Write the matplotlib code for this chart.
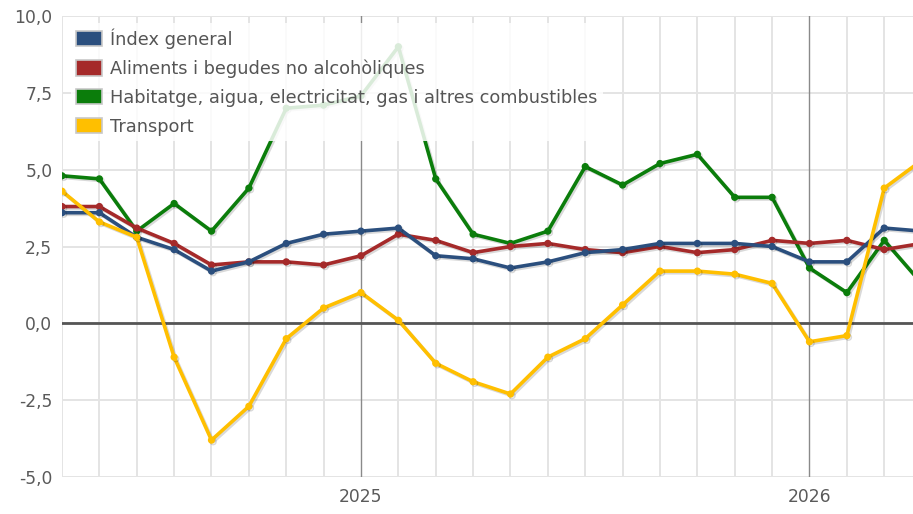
import matplotlib
matplotlib.use("Agg")
from matplotlib import pyplot as plt
from matplotlib.patches import Patch
import matplotlib.patheffects as pe

# monthly values, May 2024 .. Apr 2026
months = list(range(24))
index_general = [3.6, 3.6, 2.8, 2.4, 1.7, 2.0, 2.6, 2.9, 3.0, 3.1, 2.2, 2.1,
                 1.8, 2.0, 2.3, 2.4, 2.6, 2.6, 2.6, 2.5, 2.0, 2.0, 3.1, 3.0]
aliments = [3.8, 3.8, 3.1, 2.6, 1.9, 2.0, 2.0, 1.9, 2.2, 2.9, 2.7, 2.3,
            2.5, 2.6, 2.4, 2.3, 2.5, 2.3, 2.4, 2.7, 2.6, 2.7, 2.4, 2.6]
habitatge = [4.8, 4.7, 3.0, 3.9, 3.0, 4.4, 7.0, 7.1, 7.4, 9.0, 4.7, 2.9,
             2.6, 3.0, 5.1, 4.5, 5.2, 5.5, 4.1, 4.1, 1.8, 1.0, 2.7, 1.3]
transport = [4.3, 3.3, 2.8, -1.1, -3.8, -2.7, -0.5, 0.5, 1.0, 0.1, -1.3, -1.9,
             -2.3, -1.1, -0.5, 0.6, 1.7, 1.7, 1.6, 1.3, -0.6, -0.4, 4.4, 5.3]

series_names = ["Índex general", "Aliments i begudes no alcohòliques",
                "Habitatge, aigua, electricitat, gas i altres combustibles", "Transport"]
colors = ["#2b4f7e", "#a52a2a", "#0b7d0b", "#ffbf00"]
yticks = [-5.0, -2.5, 0.0, 2.5, 5.0, 7.5, 10.0]
year_pos = [8, 20]
year_labels = ["2025", "2026"]

fig = plt.figure(figsize=(9.13, 5.14), dpi=100)
ax = fig.add_axes([62 / 913, 1 - 477 / 514, 1 - 62 / 913, (477 - 16) / 514])

# grid
for m in months:
    if m in year_pos:
        ax.axvline(m, color="#8a8a8a", lw=1.0, zorder=1)
    else:
        ax.axvline(m, color="#e4e4e4", lw=1.4, zorder=0)
for y in yticks:
    ax.axhline(y, color="#e4e4e4", lw=1.4, zorder=0)
ax.axhline(0, color="#555555", lw=2.0, zorder=1)

shadow = [pe.SimpleLineShadow(offset=(1.2, -1.2), shadow_color="#000000", alpha=0.15),
          pe.Normal()]
for vals, c in zip([habitatge, aliments, index_general, transport], [colors[2], colors[1], colors[0], colors[3]]):
    ax.plot(months, vals, color=c, lw=2.6, marker="o", ms=4.2, zorder=3,
            path_effects=shadow)

ax.set_xlim(0, 22.77)
ax.set_ylim(-5, 10)
for s in ax.spines.values():
    s.set_visible(False)
ax.set_yticks(yticks)
ax.set_yticklabels([f"{v:.1f}".replace(".", ",") for v in yticks])
ax.set_xticks(year_pos)
ax.set_xticklabels(year_labels)
ax.tick_params(axis="both", length=0, labelsize=12.3, colors="#5a5a5a")
ax.tick_params(axis="y", pad=7)
ax.tick_params(axis="x", pad=8)

handles = [Patch(facecolor=c, edgecolor="#c8c8c8", lw=1.2) for c in colors]
leg = ax.legend(handles, series_names, loc="upper left", bbox_to_anchor=(0.005, 0.995),
                fontsize=12.8, frameon=True, framealpha=0.85, edgecolor="none",
                handlelength=1.47, handleheight=0.97, handletextpad=0.45,
                labelspacing=0.61, borderaxespad=0.25, borderpad=0.3)
leg.get_frame().set_facecolor("white")
leg.set_zorder(5)
for t in leg.get_texts():
    t.set_color("#555555")

fig.savefig("out.png", dpi=100)
